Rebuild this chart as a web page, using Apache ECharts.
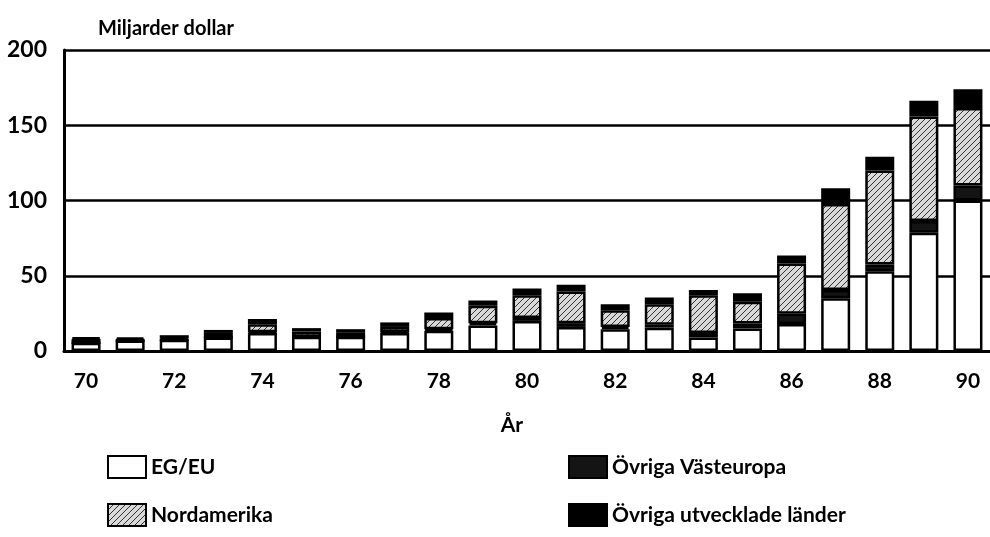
<!DOCTYPE html>
<html>
<head>
<meta charset="utf-8">
<script src="https://cdn.jsdelivr.net/npm/echarts@6/dist/echarts.min.js"></script>
<style>
  html, body { margin: 0; padding: 0; background: #fff; }
  #chart { width: 990px; height: 537px; }
</style>
</head>
<body>
<div id="chart"></div>
<script>
// år 1970-1990, miljarder dollar
var years = ['70','71','72','73','74','75','76','77','78','79','80','81','82','83','84','85','86','87','88','89','90'];
var egEu        = [5.5, 7, 7.5, 9, 12, 9.5, 9.5, 12, 13.5, 17, 20, 16, 14.5, 15.5, 9, 15, 18, 35, 53, 78.5, 100];
var vastEuropa  = [0, 0, 0, 0, 0.5, 0, 0, 0.5, 1, 1.5, 2, 2.5, 1.5, 2, 3, 3.3, 6.7, 5.6, 4.5, 7.8, 10];
var nordamerika = [2.5, 0.5, 1, 3, 5.3, 3.5, 3, 3.5, 7.5, 11.5, 15, 21, 11, 13.5, 25, 14.5, 33.5, 57, 62.5, 69.5, 51.5];
var ovrigaUtv   = [1, 1.5, 2, 2, 3.5, 2.2, 2, 3, 3.5, 3.5, 4.5, 4.5, 4, 4.5, 3.5, 5.5, 5.2, 10.5, 9, 10.5, 12.5];
var yTicks = [0, 50, 100, 150, 200];

var FONT = 'Lato';

// snedstreckat mönster för Nordamerika
function hatch() {
  var c = document.createElement('canvas');
  c.width = 6; c.height = 6;
  var g = c.getContext('2d');
  g.fillStyle = '#d9d9d9';
  g.fillRect(0, 0, 6, 6);
  g.strokeStyle = '#333';
  g.lineWidth = 1;
  g.beginPath();
  g.moveTo(0, 6); g.lineTo(6, 0);
  g.moveTo(-3, 3); g.lineTo(3, -3);
  g.moveTo(3, 9); g.lineTo(9, 3);
  g.stroke();
  return c;
}

var chart = echarts.init(document.getElementById('chart'));

function bar(name, data, fill) {
  return {
    name: name,
    type: 'bar',
    stack: 'tot',
    data: data,
    barWidth: 29,
    animation: false,
    itemStyle: { color: fill, borderColor: '#000', borderWidth: 2.5 }
  };
}

var legendText = { fontFamily: FONT, fontSize: 21, fontWeight: 'bold', color: '#000' };

chart.setOption({
  backgroundColor: '#fff',
  animation: false,
  title: {
    text: 'Miljarder dollar',
    left: 93, top: 14,
    textStyle: { fontFamily: FONT, fontSize: 20, fontWeight: 'bold', color: '#000' }
  },
  grid: { left: 64, top: 50, width: 930, height: 301, containLabel: false },
  legend: [{
    data: ['EG/EU', 'Nordamerika'],
    orient: 'vertical',
    left: 102, top: 450,
    icon: 'rect',
    itemWidth: 38, itemHeight: 22, itemGap: 24,
    textStyle: legendText
  }, {
    data: ['Övriga Västeuropa', 'Övriga utvecklade länder'],
    orient: 'vertical',
    left: 563, top: 450,
    icon: 'rect',
    itemWidth: 38, itemHeight: 22, itemGap: 24,
    textStyle: legendText
  }],
  xAxis: {
    type: 'category',
    data: years,
    name: 'År',
    nameLocation: 'middle',
    nameGap: 64,
    nameTextStyle: { fontFamily: FONT, fontSize: 21, fontWeight: 'bold', color: '#000', padding: [0, 30, 0, 0] },
    axisLine: { lineStyle: { color: '#000', width: 3 } },
    axisTick: { show: false },
    axisLabel: { interval: 1, margin: 20, fontFamily: FONT, fontSize: 21, fontWeight: 'bold', color: '#000' }
  },
  yAxis: {
    type: 'value',
    min: yTicks[0], max: yTicks[yTicks.length - 1], interval: 50,
    axisLine: { show: true, lineStyle: { color: '#000', width: 3 } },
    axisTick: { show: false },
    axisLabel: { margin: 17, fontFamily: FONT, fontSize: 23, fontWeight: 'bold', color: '#000' },
    splitLine: { lineStyle: { color: '#000', width: 2.5 } }
  },
  series: [
    bar('EG/EU', egEu, '#fff'),
    bar('Övriga Västeuropa', vastEuropa, '#141414'),
    bar('Nordamerika', nordamerika, { image: hatch(), repeat: 'repeat' }),
    bar('Övriga utvecklade länder', ovrigaUtv, '#000')
  ]
});
</script>
</body>
</html>
